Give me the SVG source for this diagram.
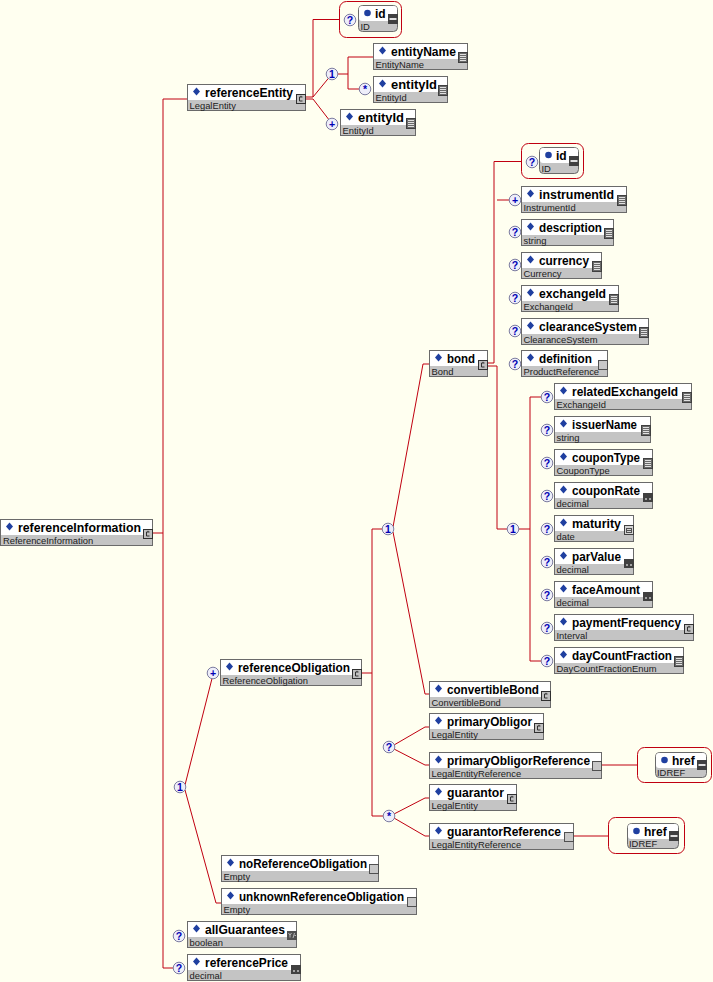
<svg xmlns="http://www.w3.org/2000/svg" xmlns:xlink="http://www.w3.org/1999/xlink" width="713" height="982" viewBox="0 0 713 982">
<style>
.bx{fill:#fff;stroke:#6a6a6a;stroke-width:1}
.ab{fill:#c4c4c4;stroke:#6a6a6a;stroke-width:1}
.at{fill:#fff}
.bg{fill:#c4c4c4}
.nm{font-family:"Liberation Sans",Arial,sans-serif;font-weight:bold;font-size:12px;fill:#000}
.ty{font-family:"Liberation Sans",Arial,sans-serif;font-size:9.4px;fill:#202020}
.ln{fill:none;stroke:#c00010;stroke-width:1}
.rb{fill:none;stroke:#c00010;stroke-width:1}
.cp circle{fill:#eeeefa;stroke:#7c7ca0;stroke-width:1}
.cp text{font-family:"Liberation Sans",Arial,sans-serif;font-weight:bold;font-size:10.5px;fill:#0000b4;text-anchor:middle}
</style>
<defs>
<path id="dm" d="M9.5,3.5 L13,7.5 L9.5,11.5 L6,7.5Z" fill="#1f3fa0"/>
<circle id="dot" cx="9.5" cy="8" r="3.3" fill="#1f3fa0"/>
<g id="ic-c"><rect x="0.5" y="0.5" width="9" height="9" fill="#c0c0c0" stroke="#303030"/><path d="M6.5,3 H3.5 V7 H6.5 M5,1.8 V3" fill="none" stroke="#303030"/></g>
<g id="ic-s"><rect x="0.5" y="0.5" width="9" height="10" fill="#6a6a6a" stroke="#404040"/><path d="M2,2.5 H8 M2,4.5 H8 M2,6.5 H8 M2,8.5 H8" stroke="#e0e0e0"/></g>
<g id="ic-d"><rect x="0" y="0" width="10" height="9" fill="#404040"/><path d="M2,5 l2,2 M4,5 l-2,2 M6,5 l2,2 M8,5 l-2,2" stroke="#bbbbbb" stroke-width="0.8"/></g>
<g id="ic-t"><rect x="0.5" y="0.5" width="9" height="9" fill="#d4d4d4" stroke="#404040"/><rect x="2.5" y="3.5" width="5" height="4" fill="none" stroke="#505050"/><path d="M2.5,5.5 H7.5" stroke="#505050"/></g>
<g id="ic-b"><rect x="0" y="0" width="10" height="9" fill="#505050"/><path d="M1.5,2 L3,4 L4.5,2 M3,4 V6.5 M6,7 L7.5,2 M7.5,4.5 H9" fill="none" stroke="#d0d0d0" stroke-width="0.8"/></g>
<g id="ic-e"><rect x="0.5" y="0.5" width="9" height="9" fill="#c8c8c8" stroke="#505050"/></g>
<g id="ic-a"><rect x="0" y="0" width="10" height="10" fill="#404040"/><rect x="1.5" y="4" width="7" height="2" fill="#e0e0e0"/></g>
</defs>
<rect width="713" height="982" fill="#fffff0"/>

<g id="connectors" class="ln">
<path d="M153,533 H163"/>
<path d="M187,99 H163 V968 H173.5"/>
<path d="M306,97 H313 V19.5 H339.5"/>
<path d="M306,99 H313"/>
<path d="M313,97 L328.5,78.2"/>
<path d="M313,99 L328.8,119.5"/>
<path d="M337.5,74 H348 M348,57 V89 M348,57 H373 M348,89 H359.5"/>
<path d="M185,785 L212,678.5"/>
<path d="M185,790 L216,903 H221"/>
<path d="M362,673 H372 M382.5,529 H372 V816 H383.5"/>
<path d="M393,527 L423,364 H429"/>
<path d="M393,532 L425,694 H429"/>
<path d="M394,745 L425,727 H429"/>
<path d="M394,749 L425,765 H429"/>
<path d="M394,814 L425,798 H429"/>
<path d="M394,818 L425,836 H429"/>
<path d="M602,765 H637"/>
<path d="M574,836 H608.5"/>
<path d="M488,363 H494 V161.5 H521.5"/>
<path d="M488,366 H497 V529 H507.5"/>
<path d="M497,200 H509.5"/>
<path d="M518.5,529 H530 M541.5,397 H530 V661 H541.5"/>
</g>

<g id="compositors" class="cp">
<g><circle cx="350" cy="20" r="5.8"/><text x="350" y="23.8">?</text></g>
<g><circle cx="332" cy="74" r="5.8"/><text x="332" y="77.8">1</text></g>
<g><circle cx="365" cy="89" r="5.8"/><text x="365" y="93.2">*</text></g>
<g><circle cx="332" cy="124" r="5.8"/><text x="332" y="127.8">+</text></g>
<g><circle cx="532" cy="162" r="5.8"/><text x="532" y="165.8">?</text></g>
<g><circle cx="515" cy="200" r="5.8"/><text x="515" y="203.8">+</text></g>
<g><circle cx="515" cy="232" r="5.8"/><text x="515" y="235.8">?</text></g>
<g><circle cx="515" cy="265" r="5.8"/><text x="515" y="268.8">?</text></g>
<g><circle cx="515" cy="298" r="5.8"/><text x="515" y="301.8">?</text></g>
<g><circle cx="515" cy="331" r="5.8"/><text x="515" y="334.8">?</text></g>
<g><circle cx="515" cy="364" r="5.8"/><text x="515" y="367.8">?</text></g>
<g><circle cx="513" cy="529" r="5.8"/><text x="513" y="532.8">1</text></g>
<g><circle cx="547" cy="397" r="5.8"/><text x="547" y="400.8">?</text></g>
<g><circle cx="547" cy="430" r="5.8"/><text x="547" y="433.8">?</text></g>
<g><circle cx="547" cy="463" r="5.8"/><text x="547" y="466.8">?</text></g>
<g><circle cx="547" cy="496" r="5.8"/><text x="547" y="499.8">?</text></g>
<g><circle cx="547" cy="529" r="5.8"/><text x="547" y="532.8">?</text></g>
<g><circle cx="547" cy="562" r="5.8"/><text x="547" y="565.8">?</text></g>
<g><circle cx="547" cy="595" r="5.8"/><text x="547" y="598.8">?</text></g>
<g><circle cx="547" cy="628" r="5.8"/><text x="547" y="631.8">?</text></g>
<g><circle cx="547" cy="661" r="5.8"/><text x="547" y="664.8">?</text></g>
<g><circle cx="213" cy="673" r="5.8"/><text x="213" y="676.8">+</text></g>
<g><circle cx="388" cy="529" r="5.8"/><text x="388" y="532.8">1</text></g>
<g><circle cx="389" cy="747" r="5.8"/><text x="389" y="750.8">?</text></g>
<g><circle cx="389" cy="816" r="5.8"/><text x="389" y="820.2">*</text></g>
<g><circle cx="180" cy="787" r="5.8"/><text x="180" y="790.8">1</text></g>
<g><circle cx="179" cy="936" r="5.8"/><text x="179" y="939.8">?</text></g>
<g><circle cx="179" cy="968" r="5.8"/><text x="179" y="971.8">?</text></g>
</g>

<g id="referenceInformation" transform="translate(0,519)"><rect class="bx" x="0.5" y="0.5" width="152" height="26"/><rect class="bg" x="1" y="16" width="151" height="10"/><use xlink:href="#dm"/><text class="nm" x="18" y="13" textLength="123" lengthAdjust="spacingAndGlyphs">referenceInformation</text><text class="ty" x="3" y="24.5">ReferenceInformation</text><use xlink:href="#ic-c" x="143" y="10"/></g>

<g id="referenceEntity" transform="translate(187,84)"><rect class="bx" x="0.5" y="0.5" width="118" height="26"/><rect class="bg" x="1" y="16" width="117" height="10"/><use xlink:href="#dm"/><text class="nm" x="18" y="13" textLength="88" lengthAdjust="spacingAndGlyphs">referenceEntity</text><text class="ty" x="2.5" y="24.5">LegalEntity</text><use xlink:href="#ic-c" x="109" y="10"/></g>

<g id="referenceEntity-id">
<rect class="rb" x="339.5" y="1.5" width="62" height="36" rx="7"/>
<g transform="translate(358,5)"><rect class="ab" x="0.5" y="0.5" width="39" height="26" rx="4"/><rect class="at" x="1" y="1" width="38" height="15" rx="3"/><use xlink:href="#dot"/><text class="nm" x="17" y="13">id</text><text class="ty" x="2.5" y="24.5">ID</text><use xlink:href="#ic-a" x="30" y="9"/></g>
</g>

<g id="entityName" transform="translate(373,43)"><rect class="bx" x="0.5" y="0.5" width="94" height="26"/><rect class="bg" x="1" y="16" width="93" height="10"/><use xlink:href="#dm"/><text class="nm" x="18" y="13" textLength="65" lengthAdjust="spacingAndGlyphs">entityName</text><text class="ty" x="2.5" y="24.5">EntityName</text><use xlink:href="#ic-s" x="85" y="9"/></g>

<g id="entityId-1" transform="translate(373,76)"><rect class="bx" x="0.5" y="0.5" width="74" height="26"/><rect class="bg" x="1" y="16" width="73" height="10"/><use xlink:href="#dm"/><text class="nm" x="18" y="13" textLength="46" lengthAdjust="spacingAndGlyphs">entityId</text><text class="ty" x="2.5" y="24.5">EntityId</text><use xlink:href="#ic-s" x="65" y="9"/></g>

<g id="entityId-2" transform="translate(340,109)"><rect class="bx" x="0.5" y="0.5" width="75" height="26"/><rect class="bg" x="1" y="16" width="74" height="10"/><use xlink:href="#dm"/><text class="nm" x="18" y="13" textLength="46" lengthAdjust="spacingAndGlyphs">entityId</text><text class="ty" x="2.5" y="24.5">EntityId</text><use xlink:href="#ic-s" x="66" y="9"/></g>

<g id="bond" transform="translate(429,350)"><rect class="bx" x="0.5" y="0.5" width="58" height="26"/><rect class="bg" x="1" y="16" width="57" height="10"/><use xlink:href="#dm"/><text class="nm" x="18" y="13" textLength="28" lengthAdjust="spacingAndGlyphs">bond</text><text class="ty" x="2.5" y="24.5">Bond</text><use xlink:href="#ic-c" x="49" y="10"/></g>

<g id="bond-id">
<rect class="rb" x="521.5" y="143.5" width="62" height="35" rx="7"/>
<g transform="translate(539,147)"><rect class="ab" x="0.5" y="0.5" width="39" height="26" rx="4"/><rect class="at" x="1" y="1" width="38" height="15" rx="3"/><use xlink:href="#dot"/><text class="nm" x="17" y="13">id</text><text class="ty" x="2.5" y="24.5">ID</text><use xlink:href="#ic-a" x="30" y="9"/></g>
</g>

<g id="instrumentId" transform="translate(521,186)"><rect class="bx" x="0.5" y="0.5" width="105" height="26"/><rect class="bg" x="1" y="16" width="104" height="10"/><use xlink:href="#dm"/><text class="nm" x="18" y="13" textLength="75" lengthAdjust="spacingAndGlyphs">instrumentId</text><text class="ty" x="2.5" y="24.5">InstrumentId</text><use xlink:href="#ic-s" x="96" y="9"/></g>

<g id="description" transform="translate(521,219)"><rect class="bx" x="0.5" y="0.5" width="92" height="26"/><rect class="bg" x="1" y="16" width="91" height="10"/><use xlink:href="#dm"/><text class="nm" x="18" y="13" textLength="63" lengthAdjust="spacingAndGlyphs">description</text><text class="ty" x="2.5" y="24.5">string</text><use xlink:href="#ic-s" x="83" y="9"/></g>

<g id="currency" transform="translate(521,252)"><rect class="bx" x="0.5" y="0.5" width="80" height="26"/><rect class="bg" x="1" y="16" width="79" height="10"/><use xlink:href="#dm"/><text class="nm" x="18" y="13" textLength="50" lengthAdjust="spacingAndGlyphs">currency</text><text class="ty" x="2.5" y="24.5">Currency</text><use xlink:href="#ic-s" x="71" y="9"/></g>

<g id="exchangeId" transform="translate(521,285)"><rect class="bx" x="0.5" y="0.5" width="97" height="26"/><rect class="bg" x="1" y="16" width="96" height="10"/><use xlink:href="#dm"/><text class="nm" x="18" y="13" textLength="67" lengthAdjust="spacingAndGlyphs">exchangeId</text><text class="ty" x="2.5" y="24.5">ExchangeId</text><use xlink:href="#ic-s" x="88" y="9"/></g>

<g id="clearanceSystem" transform="translate(521,318)"><rect class="bx" x="0.5" y="0.5" width="127" height="26"/><rect class="bg" x="1" y="16" width="126" height="10"/><use xlink:href="#dm"/><text class="nm" x="18" y="13" textLength="98" lengthAdjust="spacingAndGlyphs">clearanceSystem</text><text class="ty" x="2.5" y="24.5">ClearanceSystem</text><use xlink:href="#ic-s" x="118" y="9"/></g>

<g id="definition" transform="translate(521,350)"><rect class="bx" x="0.5" y="0.5" width="86" height="26"/><rect class="bg" x="1" y="16" width="85" height="10"/><use xlink:href="#dm"/><text class="nm" x="18" y="13" textLength="53" lengthAdjust="spacingAndGlyphs">definition</text><text class="ty" x="2.5" y="24.5">ProductReference</text><use xlink:href="#ic-e" x="77" y="10"/></g>

<g id="relatedExchangeId" transform="translate(554,383)"><rect class="bx" x="0.5" y="0.5" width="137" height="26"/><rect class="bg" x="1" y="16" width="136" height="10"/><use xlink:href="#dm"/><text class="nm" x="18" y="13" textLength="106" lengthAdjust="spacingAndGlyphs">relatedExchangeId</text><text class="ty" x="2.5" y="24.5">ExchangeId</text><use xlink:href="#ic-s" x="128" y="9"/></g>

<g id="issuerName" transform="translate(554,416)"><rect class="bx" x="0.5" y="0.5" width="96" height="26"/><rect class="bg" x="1" y="16" width="95" height="10"/><use xlink:href="#dm"/><text class="nm" x="18" y="13" textLength="65" lengthAdjust="spacingAndGlyphs">issuerName</text><text class="ty" x="2.5" y="24.5">string</text><use xlink:href="#ic-s" x="87" y="9"/></g>

<g id="couponType" transform="translate(554,449)"><rect class="bx" x="0.5" y="0.5" width="98" height="26"/><rect class="bg" x="1" y="16" width="97" height="10"/><use xlink:href="#dm"/><text class="nm" x="18" y="13" textLength="68" lengthAdjust="spacingAndGlyphs">couponType</text><text class="ty" x="2.5" y="24.5">CouponType</text><use xlink:href="#ic-s" x="89" y="9"/></g>

<g id="couponRate" transform="translate(554,482)"><rect class="bx" x="0.5" y="0.5" width="98" height="26"/><rect class="bg" x="1" y="16" width="97" height="10"/><use xlink:href="#dm"/><text class="nm" x="18" y="13" textLength="68" lengthAdjust="spacingAndGlyphs">couponRate</text><text class="ty" x="2.5" y="24.5">decimal</text><use xlink:href="#ic-d" x="89" y="11"/></g>

<g id="maturity" transform="translate(554,515)"><rect class="bx" x="0.5" y="0.5" width="79" height="26"/><rect class="bg" x="1" y="16" width="78" height="10"/><use xlink:href="#dm"/><text class="nm" x="18" y="13" textLength="49" lengthAdjust="spacingAndGlyphs">maturity</text><text class="ty" x="2.5" y="24.5">date</text><use xlink:href="#ic-t" x="70" y="10"/></g>

<g id="parValue" transform="translate(554,548)"><rect class="bx" x="0.5" y="0.5" width="79" height="26"/><rect class="bg" x="1" y="16" width="78" height="10"/><use xlink:href="#dm"/><text class="nm" x="18" y="13" textLength="49" lengthAdjust="spacingAndGlyphs">parValue</text><text class="ty" x="2.5" y="24.5">decimal</text><use xlink:href="#ic-d" x="70" y="11"/></g>

<g id="faceAmount" transform="translate(554,581)"><rect class="bx" x="0.5" y="0.5" width="98" height="26"/><rect class="bg" x="1" y="16" width="97" height="10"/><use xlink:href="#dm"/><text class="nm" x="18" y="13" textLength="68" lengthAdjust="spacingAndGlyphs">faceAmount</text><text class="ty" x="2.5" y="24.5">decimal</text><use xlink:href="#ic-d" x="89" y="11"/></g>

<g id="paymentFrequency" transform="translate(554,614)"><rect class="bx" x="0.5" y="0.5" width="139" height="26"/><rect class="bg" x="1" y="16" width="138" height="10"/><use xlink:href="#dm"/><text class="nm" x="18" y="13" textLength="109" lengthAdjust="spacingAndGlyphs">paymentFrequency</text><text class="ty" x="2.5" y="24.5">Interval</text><use xlink:href="#ic-c" x="130" y="10"/></g>

<g id="dayCountFraction" transform="translate(554,647)"><rect class="bx" x="0.5" y="0.5" width="129" height="26"/><rect class="bg" x="1" y="16" width="128" height="10"/><use xlink:href="#dm"/><text class="nm" x="18" y="13" textLength="100" lengthAdjust="spacingAndGlyphs">dayCountFraction</text><text class="ty" x="2.5" y="24.5">DayCountFractionEnum</text><use xlink:href="#ic-s" x="120" y="9"/></g>

<g id="convertibleBond" transform="translate(429,681)"><rect class="bx" x="0.5" y="0.5" width="121" height="26"/><rect class="bg" x="1" y="16" width="120" height="10"/><use xlink:href="#dm"/><text class="nm" x="18" y="13" textLength="92" lengthAdjust="spacingAndGlyphs">convertibleBond</text><text class="ty" x="2.5" y="24.5">ConvertibleBond</text><use xlink:href="#ic-c" x="112" y="10"/></g>

<g id="primaryObligor" transform="translate(429,713)"><rect class="bx" x="0.5" y="0.5" width="114" height="26"/><rect class="bg" x="1" y="16" width="113" height="10"/><use xlink:href="#dm"/><text class="nm" x="18" y="13" textLength="85" lengthAdjust="spacingAndGlyphs">primaryObligor</text><text class="ty" x="2.5" y="24.5">LegalEntity</text><use xlink:href="#ic-c" x="105" y="10"/></g>

<g id="primaryObligorReference" transform="translate(429,752)"><rect class="bx" x="0.5" y="0.5" width="172" height="26"/><rect class="bg" x="1" y="16" width="171" height="10"/><use xlink:href="#dm"/><text class="nm" x="18" y="13" textLength="143" lengthAdjust="spacingAndGlyphs">primaryObligorReference</text><text class="ty" x="2.5" y="24.5">LegalEntityReference</text><use xlink:href="#ic-e" x="163" y="9"/></g>

<g id="primaryObligorReference-href">
<rect class="rb" x="637.5" y="747.5" width="74" height="35" rx="7"/>
<g transform="translate(655,752)"><rect class="ab" x="0.5" y="0.5" width="51" height="25" rx="4"/><rect class="at" x="1" y="1" width="50" height="15" rx="3"/><use xlink:href="#dot"/><text class="nm" x="17" y="13">href</text><text class="ty" x="2" y="24">IDREF</text><use xlink:href="#ic-a" x="42" y="8"/></g>
</g>

<g id="guarantor" transform="translate(429,784)"><rect class="bx" x="0.5" y="0.5" width="87" height="26"/><rect class="bg" x="1" y="16" width="86" height="10"/><use xlink:href="#dm"/><text class="nm" x="18" y="13" textLength="57" lengthAdjust="spacingAndGlyphs">guarantor</text><text class="ty" x="2.5" y="24.5">LegalEntity</text><use xlink:href="#ic-c" x="78" y="10"/></g>

<g id="guarantorReference" transform="translate(429,823)"><rect class="bx" x="0.5" y="0.5" width="144" height="26"/><rect class="bg" x="1" y="16" width="143" height="10"/><use xlink:href="#dm"/><text class="nm" x="18" y="13" textLength="114" lengthAdjust="spacingAndGlyphs">guarantorReference</text><text class="ty" x="2.5" y="24.5">LegalEntityReference</text><use xlink:href="#ic-e" x="135" y="9"/></g>

<g id="guarantorReference-href">
<rect class="rb" x="608.5" y="817.5" width="76" height="36" rx="7"/>
<g transform="translate(627,823)"><rect class="ab" x="0.5" y="0.5" width="51" height="25" rx="4"/><rect class="at" x="1" y="1" width="50" height="15" rx="3"/><use xlink:href="#dot"/><text class="nm" x="17" y="13">href</text><text class="ty" x="2" y="24">IDREF</text><use xlink:href="#ic-a" x="42" y="8"/></g>
</g>

<g id="referenceObligation" transform="translate(220,659)"><rect class="bx" x="0.5" y="0.5" width="141" height="26"/><rect class="bg" x="1" y="16" width="140" height="10"/><use xlink:href="#dm"/><text class="nm" x="18" y="13" textLength="112" lengthAdjust="spacingAndGlyphs">referenceObligation</text><text class="ty" x="2.5" y="24.5">ReferenceObligation</text><use xlink:href="#ic-c" x="132" y="10"/></g>

<g id="noReferenceObligation" transform="translate(221,855)"><rect class="bx" x="0.5" y="0.5" width="157" height="26"/><rect class="bg" x="1" y="16" width="156" height="10"/><use xlink:href="#dm"/><text class="nm" x="18" y="13" textLength="128" lengthAdjust="spacingAndGlyphs">noReferenceObligation</text><text class="ty" x="2.5" y="24.5">Empty</text><use xlink:href="#ic-e" x="148" y="9"/></g>

<g id="unknownReferenceObligation" transform="translate(221,888)"><rect class="bx" x="0.5" y="0.5" width="195" height="26"/><rect class="bg" x="1" y="16" width="194" height="10"/><use xlink:href="#dm"/><text class="nm" x="18" y="13" textLength="165" lengthAdjust="spacingAndGlyphs">unknownReferenceObligation</text><text class="ty" x="2.5" y="24.5">Empty</text><use xlink:href="#ic-e" x="186" y="9"/></g>

<g id="allGuarantees" transform="translate(187,921)"><rect class="bx" x="0.5" y="0.5" width="109" height="26"/><rect class="bg" x="1" y="16" width="108" height="10"/><use xlink:href="#dm"/><text class="nm" x="18" y="13" textLength="80" lengthAdjust="spacingAndGlyphs">allGuarantees</text><text class="ty" x="2.5" y="24.5">boolean</text><use xlink:href="#ic-b" x="100" y="10"/></g>

<g id="referencePrice" transform="translate(187,954)"><rect class="bx" x="0.5" y="0.5" width="113" height="26"/><rect class="bg" x="1" y="16" width="112" height="10"/><use xlink:href="#dm"/><text class="nm" x="18" y="13" textLength="83" lengthAdjust="spacingAndGlyphs">referencePrice</text><text class="ty" x="2.5" y="24.5">decimal</text><use xlink:href="#ic-d" x="104" y="11"/></g>
</svg>
